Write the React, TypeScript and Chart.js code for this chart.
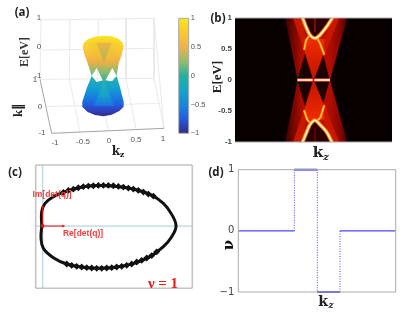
import React, { useEffect, useRef } from "react";
import { Chart, registerables } from "chart.js";
Chart.register(...registerables);

type P = [number, number];
const pts = (a: P[]) => a.map(([x, y]) => ({ x, y }));

// ---------- panel (a): projected surface, values in projection-plane units
const wallAndFloorGrid: number[][] = [
  [123, 60, 462, 55], [125, 150, 462, 145], [120, 238, 462, 235], [123, 60, 120, 238], [462, 55, 462, 235],
  [210, 58, 208, 237], [295, 57, 293, 236], [378, 56, 378, 236], [462, 55, 492, 385],
  [208, 238, 240, 395], [293, 237, 325, 392], [378, 236, 408, 388], [137, 320, 478, 310], [462, 235, 492, 385],
];
const floorEdges: number[][] = [[120, 238, 155, 400], [155, 400, 492, 385]];
const lowerCone: P[] = [[275, 228], [290, 246], [312, 240], [336, 244], [350, 228], [360, 262], [371, 305], [371, 320], [358, 333], [335, 344], [310, 349], [285, 345], [263, 336], [248, 322], [247, 305], [260, 265]];
const lowerCentre: P[] = [[312, 240], [282, 318], [342, 318]];
const upperCone: P[] = [[248, 140], [252, 128], [265, 117], [285, 110], [310, 107], [335, 109], [355, 116], [367, 127], [371, 140], [365, 165], [356, 190], [350, 228], [337, 204], [312, 248], [290, 204], [275, 228], [263, 190], [254, 165]];
const upperInside: P[] = [[265, 135], [285, 120], [310, 115], [335, 120], [358, 135], [345, 165], [312, 180], [280, 170]];
const upperCentre: P[] = [[288, 128], [335, 128], [312, 186]];
const kzTicks = ["-1", "-0.5", "0", "0.5", "1"];
const kParTicks = ["1", "0", "-1"];
const eTicks = ["1", "0", "-1"];

// ---------- colour bar
const colourRange: [number, number] = [-1, 1];

// ---------- panel (b): spectral function regions, x = kz, y = E
const bFanUpper: P[] = [[-0.363, 1], [0.431, 1], [0.21, 0], [-0.202, 0]];
const bFanLower: P[] = [[-0.363, -1], [0.431, -1], [0.21, 0], [-0.202, 0]];
const bUpperInnerLeft: P[] = [[-0.26, 1], [-0.13, 1], [-0.1, 0.6], [-0.002, 0.02], [-0.11, 0.43], [-0.16, 0.62]];
const bUpperInnerRight: P[] = [[0.33, 1], [0.24, 1], [0.12, 0.62], [0.002, 0.02], [0.14, 0.4], [0.2, 0.6]];
const bUpperCentre: P[] = [[-0.1, 0.66], [0.14, 0.66], [0.125, 0.42], [0, 0.02], [-0.108, 0.43]];
const bLowerInnerLeft: P[] = [[-0.26, -1], [-0.13, -1], [-0.1, -0.6], [-0.002, -0.02], [-0.11, -0.43], [-0.16, -0.62]];
const bLowerInnerRight: P[] = [[0.33, -1], [0.24, -1], [0.12, -0.62], [0.002, -0.02], [0.14, -0.38], [0.2, -0.6]];
const bLowerCentre: P[] = [[-0.1, -0.64], [0.14, -0.64], [0.125, -0.38], [0, -0.02], [-0.108, -0.43]];
const bGapUL: P[] = [[-0.202, 0.02], [-0.011, 0.02], [-0.108, 0.43]];
const bGapUR: P[] = [[0.011, 0.02], [0.202, 0.02], [0.125, 0.4]];
const bGapLL: P[] = [[-0.202, -0.02], [-0.011, -0.02], [-0.108, -0.43]];
const bGapLR: P[] = [[0.011, -0.02], [0.202, -0.02], [0.125, -0.37]];
const bInsideU: P[] = [[-0.13, 1], [0.235, 1], [0.17, 0.86], [0.083, 0.73], [0.019, 0.69], [-0.045, 0.73], [-0.087, 0.86]];
const bInsideL: P[] = [[-0.13, -1], [0.235, -1], [0.17, -0.86], [0.083, -0.73], [0.019, -0.66], [-0.045, -0.73], [-0.087, -0.86]];
const bCurveU: P[] = [[-0.138, 1], [-0.096, 0.86], [-0.045, 0.726], [0.019, 0.672], [0.083, 0.726], [0.168, 0.86], [0.24, 1]];
const bCurveL: P[] = [[-0.138, -1], [-0.087, -0.84], [-0.045, -0.72], [0.019, -0.65], [0.083, -0.72], [0.168, -0.84], [0.235, -1]];
const bArmsU: P[][] = [[[-0.117, 0.5], [-0.095, 0.64], [-0.05, 0.72]], [[0.134, 0.42], [0.083, 0.59], [0.045, 0.68]]];
const bArmsL: P[][] = [[[-0.117, -0.5], [-0.08, -0.64], [-0.05, -0.68]], [[0.134, -0.42], [0.09, -0.6], [0.05, -0.66]]];
const bZeroModes: P[][] = [[[-0.205, 0], [-0.012, 0]], [[0.012, 0], [0.21, 0]]];
const energyTicks = [-1, -0.5, 0, 0.5, 1];

// ---------- panel (c): winding curve
const windingCurve: P[] = [
  [-0.0075, 0], [-0.0125, -0.3], [0.005, -0.545], [0.08, -0.772], [0.18, -0.927], [0.305, -1.008], [0.43, -1.033],
  [0.555, -1.0], [0.68, -0.919], [0.805, -0.748], [0.905, -0.504], [0.9675, -0.26], [1, 0], [0.9675, 0.285],
  [0.905, 0.553], [0.805, 0.772], [0.68, 0.902], [0.555, 0.967], [0.43, 0.992], [0.305, 0.96], [0.18, 0.854],
  [0.08, 0.715], [0.0175, 0.553], [-0.0075, 0.35], [-0.0075, 0],
];
const topMarksRe = [0.155, 0.1925, 0.23, 0.2675, 0.305, 0.3425, 0.38, 0.4175, 0.455, 0.4925, 0.53, 0.5675, 0.605, 0.6425, 0.68, 0.7175, 0.755, 0.7925, 0.83];
const topMarksIm = [0.82, 0.87, 0.9, 0.935, 0.96, 0.975, 0.984, 0.992, 0.992, 0.992, 0.984, 0.967, 0.951, 0.927, 0.902, 0.87, 0.829, 0.78, 0.732];
const bottomMarksRe = [0.18, 0.2175, 0.255, 0.2925, 0.33, 0.3675, 0.405, 0.4425, 0.48, 0.5175, 0.555, 0.5925, 0.63, 0.6675, 0.705, 0.7425, 0.78, 0.8175, 0.855];
const bottomMarksIm = [-0.927, -0.959, -0.984, -1.0, -1.016, -1.024, -1.033, -1.033, -1.024, -1.016, -1.0, -0.984, -0.959, -0.927, -0.878, -0.837, -0.78, -0.72, -0.63];
const reArrow: P[] = [[0, 0], [0.155, 0]];
const imArrow: P[] = [[0, 0], [0, 0.47]];

// ---------- panel (d): winding number
const stepEdges = [-1, -0.288, 0.004, 0.292, 1];
const stepValues = [0, 1, -1, 0];

// ---------- helpers
type Note = { t: string; x: number; y: number; font: string; color: string; align?: CanvasTextAlign; rot?: number };
const notesPlugin = (notes: Note[]) => ({
  id: "notes",
  afterDraw(chart: any) {
    const c = chart.ctx;
    c.save();
    for (const n of notes) {
      c.save();
      c.translate(n.x, n.y);
      if (n.rot) c.rotate(n.rot);
      c.font = n.font;
      c.fillStyle = n.color;
      c.textAlign = n.align || "center";
      c.textBaseline = "middle";
      c.fillText(n.t, 0, 0);
      c.restore();
    }
    c.restore();
  },
});
const framePlugin = (color: string, w: number, sides = "tblr") => ({
  id: "frame",
  afterDatasetsDraw(chart: any) {
    const { left, right, top, bottom } = chart.chartArea;
    const c = chart.ctx;
    c.save();
    c.strokeStyle = color;
    c.lineWidth = w;
    c.beginPath();
    if (sides.includes("t")) { c.moveTo(left, top); c.lineTo(right, top); }
    if (sides.includes("b")) { c.moveTo(left, bottom); c.lineTo(right, bottom); }
    if (sides.includes("l")) { c.moveTo(left, top); c.lineTo(left, bottom); }
    if (sides.includes("r")) { c.moveTo(right, top); c.lineTo(right, bottom); }
    c.stroke();
    c.restore();
  },
});
const blackPlot = {
  id: "blackPlot",
  beforeDatasetsDraw(chart: any) {
    const { left, top, width, height } = chart.chartArea;
    chart.ctx.fillStyle = "#080000";
    chart.ctx.fillRect(left, top, width, height);
  },
};
const vGrad = (y0: number, y1: number, stops: [number, string][]) => (ctx: any) => {
  if (!ctx.chart.chartArea) return stops[0][1];
  const s = ctx.chart.scales.y;
  const a = s.getPixelForValue(y0), b = s.getPixelForValue(y1);
  if (!isFinite(a) || !isFinite(b)) return stops[0][1];
  const g = ctx.chart.ctx.createLinearGradient(0, a, 0, b);
  stops.forEach(([o, c]) => g.addColorStop(o, c));
  return g;
};
const hGrad = (x0: number, x1: number, stops: [number, string][]) => (ctx: any) => {
  if (!ctx.chart.chartArea) return stops[0][1];
  const s = ctx.chart.scales.x;
  const a = s.getPixelForValue(x0), b = s.getPixelForValue(x1);
  if (!isFinite(a) || !isFinite(b)) return stops[0][1];
  const g = ctx.chart.ctx.createLinearGradient(a, 0, b, 0);
  stops.forEach(([o, c]) => g.addColorStop(o, c));
  return g;
};
const poly = (a: P[], color: any) => ({ data: pts(a), showLine: true, fill: "shape", backgroundColor: color, borderWidth: 0, borderColor: "transparent", pointRadius: 0 });
const line = (a: P[], color: string, w: number, extra: any = {}) => ({ data: pts(a), showLine: true, fill: false, borderColor: color, borderWidth: w, pointRadius: 0, borderCapStyle: "round", ...extra });
const painted = (ds: any[]) => ds.map((d, i) => ({ ...d, order: ds.length - i }));
const base = (extra: any) => ({
  animation: false,
  responsive: false,
  plugins: { legend: { display: false }, tooltip: { enabled: false }, title: { display: false } },
  ...extra,
});
const SERIF = "'Liberation Serif'";
const DSERIF = "'DejaVu Serif'";
const SANS = "'Liberation Sans'";
const LABEL = "bold 11.5px 'Open Sans'";
const INK = "#222";
const TICK = "#555";
const plainTick = (v: any) => String(v).replace("-", "−");
const upperStops: [number, string][] = [[0, "#f8e71c"], [0.3, "#fcc832"], [0.55, "#eeb044"], [0.78, "#86bc72"], [1, "#22aea0"]];
const lowerStops: [number, string][] = [[0, "#2ab0a8"], [0.3, "#12a0d2"], [0.62, "#1a6ee2"], [0.85, "#3040c4"], [1, "#352a87"]];

// ---------- panel configs
function configA() {
  const notes: Note[] = [
    { t: "(a)", x: 22, y: 13, font: LABEL, color: INK },
    { t: eTicks[0], x: 39, y: 18, font: `8px ${SANS}`, color: TICK },
    { t: eTicks[1], x: 39, y: 47, font: `8px ${SANS}`, color: TICK },
    { t: eTicks[2], x: 38, y: 76, font: `8px ${SANS}`, color: TICK },
    { t: kParTicks[0], x: 35, y: 80, font: `8px ${SANS}`, color: TICK },
    { t: kParTicks[1], x: 40, y: 107, font: `8px ${SANS}`, color: TICK },
    { t: kParTicks[2], x: 42, y: 133, font: `8px ${SANS}`, color: TICK },
    { t: kzTicks[0], x: 55, y: 143, font: `8px ${SANS}`, color: TICK },
    { t: kzTicks[1], x: 83, y: 142, font: `8px ${SANS}`, color: TICK },
    { t: kzTicks[2], x: 109, y: 141, font: `8px ${SANS}`, color: TICK },
    { t: kzTicks[3], x: 136, y: 140, font: `8px ${SANS}`, color: TICK },
    { t: kzTicks[4], x: 163, y: 139, font: `8px ${SANS}`, color: TICK },
    { t: "E[eV]", x: 25, y: 52, font: `bold 12px ${SERIF}`, color: "#333", rot: -Math.PI / 2 },
    { t: "k∥", x: 19, y: 110, font: `bold 13px ${SERIF}`, color: "#222", rot: -Math.PI / 2 },
    { t: "k", x: 116, y: 152, font: `bold 12px ${DSERIF}`, color: "#222" },
    { t: "z", x: 122, y: 155, font: `bold 8px ${DSERIF}`, color: "#222" },
  ];
  const seg = (s: number[], c: string, w: number) => line([[s[0], s[1]], [s[2], s[3]]], c, w, { borderCapStyle: "butt" });
  return {
    type: "scatter",
    data: {
      datasets: painted([
        ...wallAndFloorGrid.map((s) => seg(s, "#e4e4e4", 0.8)),
        ...floorEdges.map((s) => seg(s, "#9a9a9a", 0.9)),
        poly(lowerCone, vGrad(228, 349, lowerStops)),
        poly(lowerCentre, vGrad(240, 318, [[0, "#2ab4a8"], [0.6, "#18a0d0"], [1, "#1c70e0"]])),
        poly(upperCone, vGrad(107, 248, upperStops)),
        poly(upperInside, vGrad(115, 180, [[0, "#f6d82a"], [1, "#f2b43c"]])),
        poly(upperCentre, vGrad(128, 186, [[0, "#f0b440"], [1, "#a8b860"]])),
      ]),
    },
    options: base({
      layout: { padding: 0 },
      scales: {
        x: { type: "linear", display: false, min: 0, max: 525 },
        y: { type: "linear", display: false, min: 0, max: 480, reverse: true },
      },
    }),
    plugins: [notesPlugin(notes)],
  };
}

function configBar() {
  return {
    type: "bar",
    data: {
      labels: ["E"],
      datasets: [{
        data: [colourRange],
        barPercentage: 1,
        categoryPercentage: 1,
        borderWidth: 0,
        backgroundColor: vGrad(1, -1, [[0, "#f9e816"], [0.12, "#fcc82e"], [0.25, "#eeb24a"], [0.38, "#90bc70"], [0.5, "#22b0a0"], [0.62, "#10a8c8"], [0.75, "#1688dc"], [0.88, "#2458e0"], [1, "#352a87"]]),
      }],
    },
    options: base({
      layout: { padding: { left: 8.7, top: 18.3, bottom: 26.7, right: 0 } },
      scales: {
        x: { display: false },
        y: {
          position: "right", min: -1, max: 1,
          afterFit(s: any) { s.width = 26.3; },
          grid: { display: false, drawTicks: false },
          border: { display: false },
          ticks: { stepSize: 0.5, padding: 2, color: TICK, font: { family: "Liberation Sans", size: 7.5 }, callback: plainTick },
        },
      },
    }),
    plugins: [framePlugin("#aaa", 1)],
  };
}

function configB() {
  const notes: Note[] = [
    { t: "(b)", x: 13, y: 19, font: LABEL, color: INK },
    { t: "E[eV]", x: 13, y: 77, font: `bold 13px ${SERIF}`, color: "#222", rot: -Math.PI / 2 },
    { t: "k", x: 113, y: 153, font: `bold 15px ${DSERIF}`, color: "#222" },
    { t: "z", x: 121, y: 157, font: `italic bold 10px ${DSERIF}`, color: "#222" },
  ];
  const fan = hGrad(-0.36, 0.43, [[0, "#3a0000"], [0.12, "#700600"], [0.28, "#b00c00"], [0.5, "#c81000"], [0.72, "#b00c00"], [0.88, "#8a0800"], [1, "#4a0000"]]);
  const centreGlow: [number, string][] = [[0, "#f02c00"], [1, "#c01000"]];
  const gapShade: [number, string][] = [[0, "#140000"], [1, "#2a0000"]];
  return {
    type: "scatter",
    data: {
      datasets: painted([
        poly(bFanUpper, fan),
        poly(bFanLower, fan),
        poly(bUpperInnerLeft, "#c81800"),
        poly(bUpperInnerRight, "#c81800"),
        poly(bLowerInnerLeft, "#c81800"),
        poly(bLowerInnerRight, "#c81800"),
        poly(bUpperCentre, vGrad(0.66, 0, centreGlow)),
        poly(bLowerCentre, vGrad(-0.64, 0, centreGlow)),
        poly(bGapUL, vGrad(0, 0.43, gapShade)),
        poly(bGapUR, vGrad(0, 0.4, gapShade)),
        poly(bGapLL, vGrad(0, -0.43, gapShade)),
        poly(bGapLR, vGrad(0, -0.37, gapShade)),
        poly(bInsideU, "#2a0000"),
        poly(bInsideL, "#2a0000"),
        line([[0.02, 1], [0.02, 0.78]], "#801000", 1),
        line([[0.02, -1], [0.02, -0.78]], "#801000", 1),
        ...bArmsU.map((a) => line(a, "#ff7000", 2.6)),
        ...bArmsL.map((a) => line(a, "#ff7000", 2.6)),
        ...bArmsU.map((a) => line(a, "#ffd040", 1.2)),
        ...bArmsL.map((a) => line(a, "#ffd040", 1.2)),
        line(bCurveU, "#ff7000", 4, { tension: 0.3 }),
        line(bCurveL, "#ff7000", 4, { tension: 0.3 }),
        line(bCurveU, "#fff4c0", 2, { tension: 0.3 }),
        line(bCurveL, "#fff4c0", 2, { tension: 0.3 }),
        ...bZeroModes.map((a) => line(a, "#e83000", 3.6, { borderCapStyle: "butt" })),
        ...bZeroModes.map((a) => line(a, "#fff8e0", 1.8, { borderCapStyle: "butt" })),
      ]),
    },
    options: base({
      layout: { padding: { top: 18, right: 23, bottom: 23, left: 0 } },
      scales: {
        x: { type: "linear", display: false, min: -1, max: 1 },
        y: {
          type: "linear", min: -1, max: 1,
          afterFit(s: any) { s.width = 30; },
          afterBuildTicks(s: any) { s.ticks = energyTicks.map((value) => ({ value })); },
          grid: { display: false, drawTicks: false },
          border: { display: false },
          ticks: { padding: 3, color: "#444", font: { family: "Liberation Sans", size: 8, weight: "bold" }, callback: (v: any) => String(v) },
        },
      },
    }),
    plugins: [blackPlot, framePlugin("#aaa", 1, "tb"), notesPlugin(notes)],
  };
}

function configC() {
  const notes: Note[] = [
    { t: "(c)", x: 15, y: 18, font: LABEL, color: INK },
    { t: "Im[det(q)]", x: 52, y: 40, font: `bold 8.5px ${SANS}`, color: "#f04040" },
    { t: "Re[det(q)]", x: 83, y: 79, font: `bold 8.5px ${SANS}`, color: "#f04040" },
    { t: "ν = 1", x: 163, y: 129, font: `bold 15px ${SERIF}`, color: "#f01818" },
  ];
  const mark = (re: number[], im: number[]) => ({
    data: re.map((x, i) => ({ x, y: im[i] })),
    showLine: false, pointStyle: "rectRot", pointRadius: 3.4, backgroundColor: "#111", borderColor: "#111", borderWidth: 0,
  });
  const arrow = (a: P[], rot: number) => ({
    data: pts(a), showLine: true, fill: false, borderColor: "#f01010", borderWidth: 1,
    pointStyle: ["rect", "triangle"], pointRotation: [0, rot], pointRadius: [2, 1.8], backgroundColor: "#f01010", pointBorderWidth: 0,
  });
  const yMin = -1.52, yMax = 1.49, xMin = -0.0525, xMax = 1.122;
  return {
    type: "scatter",
    data: {
      datasets: painted([
        line([[0, yMin], [0, yMax]], "#b8d4e6", 1.2, { borderCapStyle: "butt" }),
        line([[xMin, 0], [xMax, 0]], "#b8d4e6", 1.2, { borderCapStyle: "butt" }),
        line(windingCurve, "#111", 3, { tension: 0.4 }),
        mark(topMarksRe, topMarksIm),
        mark(bottomMarksRe, bottomMarksIm),
        arrow(reArrow, 90),
        arrow(imArrow, 0),
      ]),
    },
    options: base({
      layout: { padding: { left: 35.7, right: 12.7, top: 10, bottom: 24.7 } },
      scales: {
        x: { type: "linear", display: false, min: xMin, max: xMax },
        y: { type: "linear", display: false, min: yMin, max: yMax },
      },
    }),
    plugins: [framePlugin("#c4c4c4", 1.6), notesPlugin(notes)],
  };
}

function configD() {
  const notes: Note[] = [
    { t: "(d)", x: 11, y: 18, font: LABEL, color: INK },
    { t: "ν", x: 24, y: 90, font: `bold 15px ${DSERIF}`, color: "#111", rot: -Math.PI / 2 },
    { t: "k", x: 118, y: 147, font: `bold 14px ${DSERIF}`, color: "#222" },
    { t: "z", x: 126, y: 151, font: `italic bold 9px ${DSERIF}`, color: "#222" },
  ];
  const blue = "#4848f0";
  const flats = stepValues.map((v, i) =>
    line([[stepEdges[i], v], [stepEdges[i + 1], v]], blue, v === 0 ? 1.2 : 2, { borderCapStyle: "butt", clip: false }));
  const risers = stepValues.slice(1).map((v, i) =>
    line([[stepEdges[i + 1], stepValues[i]], [stepEdges[i + 1], v]], blue, 1, { borderDash: [1, 1.5], borderCapStyle: "butt", clip: false }));
  return {
    type: "scatter",
    data: { datasets: painted([...risers, ...flats]) },
    options: base({
      layout: { padding: { top: 14.7, right: 19.3, bottom: 21, left: 0 } },
      scales: {
        x: { type: "linear", display: false, min: -1, max: 1 },
        y: {
          type: "linear", min: -1, max: 1,
          afterFit(s: any) { s.width = 33.3; },
          afterBuildTicks(s: any) { s.ticks = [-1, 0, 1].map((value) => ({ value })); },
          grid: { display: false, drawTicks: false },
          border: { display: false },
          ticks: { padding: 4, color: "#444", font: { family: "DejaVu Sans", size: 10 }, callback: plainTick },
        },
      },
    }),
    plugins: [framePlugin("#aaa", 1), notesPlugin(notes)],
  };
}

// ---------- panels
const panels = [
  { make: configA, left: 0, top: 0, w: 175, h: 160 },
  { make: configBar, left: 170, top: 0, w: 45, h: 160 },
  { make: configB, left: 205, top: 0, w: 210, h: 165 },
  { make: configC, left: 0, top: 155, w: 205, h: 158 },
  { make: configD, left: 205, top: 155, w: 210, h: 158 },
];

function Panel({ p }: { p: (typeof panels)[number] }) {
  const ref = useRef<HTMLCanvasElement>(null);
  useEffect(() => {
    const chart = new Chart(ref.current as any, p.make() as any);
    return () => chart.destroy();
  }, [p]);
  return (
    <canvas
      ref={ref}
      width={p.w}
      height={p.h}
      style={{ position: "absolute", left: p.left, top: p.top, width: p.w, height: p.h, filter: "blur(0.35px)" }}
    />
  );
}

export default function App() {
  return (
    <div style={{ position: "fixed", left: 0, top: 0, width: 415, height: 313, background: "#fff", overflow: "hidden" }}>
      {panels.map((p, i) => <Panel key={i} p={p} />)}
    </div>
  );
}
